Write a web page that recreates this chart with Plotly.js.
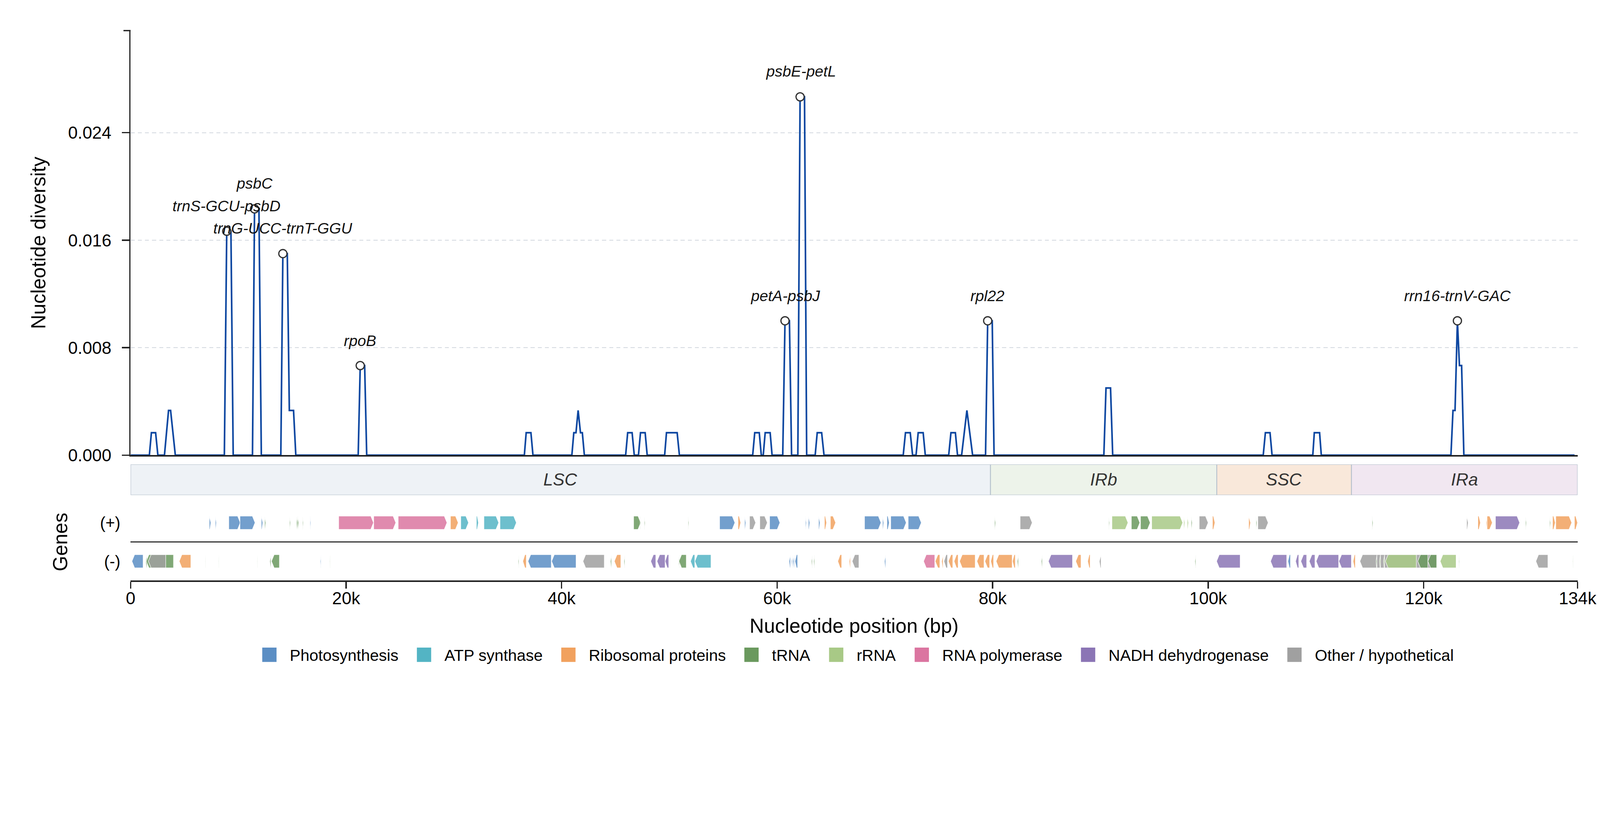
<!DOCTYPE html>
<html>
<head>
<meta charset="utf-8">
<script src="https://cdn.plot.ly/plotly-3.0.1.min.js"></script>
<style>
  html { overflow:hidden; }
  html, body { margin:0; padding:0; background:#fff; width:100%; height:100%; }
  #wrap { position:relative; overflow:hidden; }
  #myDiv { width:1568px; height:763px; transform-origin:0 0; position:absolute; left:0; top:0; }
</style>
</head>
<body>
<div id="wrap"><div id="myDiv"></div></div>
<script>
/**************************************************************/
// sliding window nucleotide diversity (window vertices, bp / pi)
var divPos = [0,
  1740,1930,2320,2530, 3140,3520,3710,4150,
  8700,8920,9310,9520, 11310,11500,11910,12130,
  13940,14130,14540,14730,15120,15330, 21120,21310,21720,21910,
  36540,36710,37150,37340, 40950,41130,41330,41530,41750,41920,42110,
  45940,46130,46540,46740, 47130,47320,47750,47940, 49560,49730,50720,50930,
  57730,57920,58340,58530, 58710,58890,59350,59530,
  60520,60730,61140,61340, 61920,62130,62540,62740, 63530,63720,64130,64350,
  71700,71910,72350,72570, 72890,73090,73550,73750, 75920,76130,76540,76740,
  77120,77610,78140, 79340,79540,79960,80130,
  90320,90520,90940,91140, 105110,105310,105740,105930, 109710,109850,110340,110500,
  122530,122720,122910,123130,123320,123520,123730, 134000];
var divPi = [0,
  0,0.00167,0.00167,0, 0,0.00333,0.00333,0,
  0,0.01667,0.01667,0, 0,0.01833,0.01833,0,
  0,0.015,0.015,0.00333,0.00333,0, 0,0.00667,0.00667,0,
  0,0.00167,0.00167,0, 0,0.00167,0.00167,0.00333,0.00167,0.00167,0,
  0,0.00167,0.00167,0, 0,0.00167,0.00167,0, 0,0.00167,0.00167,0,
  0,0.00167,0.00167,0, 0,0.00167,0.00167,0,
  0,0.01,0.01,0, 0,0.02667,0.02667,0, 0,0.00167,0.00167,0,
  0,0.00167,0.00167,0, 0,0.00167,0.00167,0, 0,0.00167,0.00167,0,
  0,0.00333,0, 0,0.01,0.01,0,
  0,0.005,0.005,0, 0,0.00167,0.00167,0, 0,0.00167,0.00167,0,
  0,0.00333,0.00333,0.01,0.00667,0.00667,0, 0];

// labelled hotspots
var peakLabels = ["trnS-GCU-psbD","psbC","trnG-UCC-trnT-GGU","rpoB",
                  "petA-psbJ","psbE-petL","rpl22","rrn16-trnV-GAC"];
var peakPos = [8920, 11500, 14130, 21310, 60730, 62130, 79540, 123130];
var peakPi  = [0.01667, 0.01833, 0.015, 0.00667, 0.01, 0.02667, 0.01, 0.01];

// genome regions
var regionNames = ["LSC","IRb","SSC","IRa"];
var regionStart = [0, 79800, 100800, 113300];
var regionEnd   = [79800, 100800, 113300, 134280];
var regionColors = ["#EEF2F6","#EDF3EA","#F9E8DA","#F1E7F1"];

// gene categories
var catNames = ["Photosynthesis","ATP synthase","Ribosomal proteins","tRNA","rRNA",
                "RNA polymerase","NADH dehydrogenase","Other / hypothetical"];
var catColors = ["#5B8EC4","#53B4C4","#F1A15E","#6A995E","#A8C986",
                 "#DB75A0","#8B75B5","#A0A0A0"];

// genes on (+) strand
var plusStart = [7300,7860,9110,10150,12130,12440,14750,15400,15500,15960,16660,
  19310,22560,24830,29680,30640,32090,32790,34280,46680,47290,47670,51740,
  54660,56370,56980,57440,58390,59300,62630,62900,63850,64390,64940,
  68110,69780,70190,70540,72160,80180,82550,90770,91070,92870,93720,94760,
  97730,98060,98430,99170,100400,103760,104440,104610,115220,123990,
  125030,125790,125880,126660,129450,131690,131960,132260,133990];
var plusEnd = [7450,7960,10180,11550,12270,12540,14830,15500,15600,16030,16730,
  22540,24610,29360,30400,31360,32280,34160,35800,47340,47350,47740,51810,
  56080,56620,57090,58010,59090,60260,62710,63030,63980,64590,65430,
  69640,69890,70410,71980,73380,80270,83670,90840,92560,93660,94620,97640,
  97830,98170,98520,100000,100630,103930,104520,105570,115300,124130,
  125270,125870,126370,128910,129530,131770,132210,133740,134280];
var plusCat = [0,0,0,0,0,3,3,3,3,3,0,
  5,5,5,2,1,1,1,1,3,3,3,3,
  0,2,0,7,7,0,0,0,0,2,2,
  0,0,0,0,0,3,7,3,4,3,3,4,
  4,4,3,7,2,2,3,7,3,7,
  2,2,2,6,3,3,2,2,2];

// genes on (-) strand
var minusStart = [120,1400,1450,1650,4510,6920,8150,11740,12920,13070,17600,18470,
  35970,36400,36880,39070,41980,44530,44890,45790,48270,48850,49600,50860,50880,
  51960,52360,61110,61340,61480,61650,63190,63390,65630,66690,66960,69960,
  73590,74670,75270,75480,75890,76420,76930,78540,79280,79820,80320,81840,
  82290,84520,85170,87710,88820,89900,98770,100780,105790,107400,108110,
  108600,109380,110020,112130,113450,114080,115580,115900,116280,116450,
  119450,120390,121530,123250,130410,133820];
var minusEnd = [1160,1520,3980,3260,5590,6970,8200,11790,13020,13810,17670,18520,
  36040,36720,39040,41340,43960,44630,45490,45870,48740,49600,49940,50940,51570,
  52360,53860,61240,61430,61590,61900,63270,63470,65990,66800,67590,70070,
  74630,75100,75400,75810,76300,76800,78380,79200,79720,80090,81810,82100,
  82390,84610,87410,88200,89050,90060,98850,102970,107290,107640,108410,
  109140,109910,112110,113290,113660,121210,115660,115990,116370,119320,
  120390,121210,123010,123310,131530,133870];
var minusCat = [0,3,3,7,2,3,3,3,3,3,0,3,
  3,2,0,0,7,3,2,3,6,6,6,3,3,
  1,1,0,0,0,0,3,3,2,2,7,0,
  5,2,2,7,2,2,2,2,2,2,2,2,
  3,3,6,2,2,7,3,6,6,0,6,
  6,6,6,6,2,7,3,4,4,4,
  3,3,4,3,7,3];

/**************************************************************/
var FONT = "Liberation Sans, Arial, sans-serif";
var GENOME = 134280;
var BASE_W = 1568, BASE_H = 763;

function hexToRgba(hex, a) {
  var r=parseInt(hex.substr(1,2),16);
  var g=parseInt(hex.substr(3,2),16);
  var b=parseInt(hex.substr(5,2),16);
  return "rgba("+r+","+g+","+b+","+a+")";
}

// one arrow polygon per gene, pointing along its strand
function makeGeneTraces(starts, ends, cats, strand) {
  var ret=[];
  var mid = strand>0 ? 0.5 : -0.5;
  var hh=0.172;
  for(var i=0;i<starts.length;i++) {
    var s=starts[i], e=ends[i];
    var head=Math.min(250, (e-s)*0.6);
    var xs, ys;
    if(strand>0) {
      xs=[s, e-head, e, e-head, s, s];
    } else {
      xs=[e, s+head, s, s+head, e, e];
    }
    ys=[mid-hh, mid-hh, mid, mid+hh, mid+hh, mid-hh];
    var col=catColors[cats[i]];
    ret.push({
      x:xs, y:ys, xaxis:"x", yaxis:"y3",
      type:"scatter", mode:"lines", fill:"toself",
      fillcolor: hexToRgba(col,0.85),
      line:{color:"rgba(255,255,255,0.9)", width:0.5},
      showlegend:false, hoverinfo:"skip"
    });
  }
  return ret;
}

function makeLegendTraces() {
  var ret=[];
  for(var i=0;i<catNames.length;i++) {
    ret.push({
      x:[null], y:[null], xaxis:"x", yaxis:"y3",
      type:"scatter", mode:"markers", name:catNames[i],
      marker:{symbol:"square", size:14, color:catColors[i]},
      showlegend:true, hoverinfo:"skip"
    });
  }
  return ret;
}

function makeRegionTrace() {
  var lens=[], ys=[];
  for(var i=0;i<regionNames.length;i++) {
    lens.push(regionEnd[i]-regionStart[i]);
    ys.push(0);
  }
  return {
    type:"bar", orientation:"h", x:lens, base:regionStart, y:ys, width:1,
    xaxis:"x", yaxis:"y2",
    marker:{color:regionColors, line:{color:"#B3BFCC", width:0.8}},
    text:regionNames, textposition:"inside", insidetextanchor:"middle",
    constraintext:"none",
    textfont:{family:FONT, size:17, color:"#333", style:"italic"},
    showlegend:false, hoverinfo:"skip"
  };
}

function makeDiversityTraces() {
  var line={
    x:divPos, y:divPi, xaxis:"x2", yaxis:"y",
    type:"scatter", mode:"lines",
    line:{color:"#0D47A1", width:1.6},
    showlegend:false, hoverinfo:"skip"
  };
  var marks={
    x:peakPos, y:peakPi, xaxis:"x2", yaxis:"y",
    type:"scatter", mode:"markers",
    marker:{symbol:"circle", size:8, color:"#fff", line:{color:"#333", width:1.2}},
    cliponaxis:false, showlegend:false, hoverinfo:"skip"
  };
  return [line, marks];
}

function makePeakAnnotations() {
  var ret=[];
  for(var i=0;i<peakLabels.length;i++) {
    ret.push({
      x:peakPos[i], y:peakPi[i], xref:"x2", yref:"y",
      text:peakLabels[i], showarrow:false, yshift:25,
      xanchor:"center", yanchor:"middle",
      font:{family:FONT, size:15, color:"#111", style:"italic"}
    });
  }
  return ret;
}

function getLayout() {
  var xticks=[0,20000,40000,60000,80000,100000,120000,GENOME];
  var xtext=["0","20k","40k","60k","80k","100k","120k","134k"];
  return {
    width:BASE_W, height:BASE_H,
    margin:{l:128.25, r:22.1, t:29.5, b:194.1},
    paper_bgcolor:"#fff", plot_bgcolor:"rgba(0,0,0,0)",
    font:{family:FONT, color:"#000"},
    hovermode:false,
    showlegend:true,
    legend:{orientation:"h", x:0.5, xanchor:"center", y:-0.1355, yanchor:"middle",
            font:{family:FONT, size:15.7, color:"#000"}, itemwidth:30,
            bgcolor:"rgba(0,0,0,0)"},
    xaxis:{
      domain:[0,1], anchor:"y3", range:[0,GENOME],
      tickvals:xticks, ticktext:xtext,
      ticks:"outside", ticklen:6.5, tickwidth:1.3, tickcolor:"#222",
      ticklabelstandoff:-5,
      showline:true, linecolor:"#222", linewidth:1.3,
      showgrid:false, zeroline:false,
      tickfont:{size:17, color:"#000"},
      title:{text:"Nucleotide position (bp)", font:{size:19.5, color:"#000"}, standoff:11}
    },
    xaxis2:{
      domain:[0,1], anchor:"y", range:[0,GENOME],
      showticklabels:false, ticks:"",
      showline:true, linecolor:"#222", linewidth:1.4,
      showgrid:false, zeroline:false
    },
    yaxis:{
      domain:[0.228,1], anchor:"x2", range:[0,0.0316],
      tickvals:[0,0.008,0.016,0.024], ticktext:["0.000","0.008","0.016","0.024"],
      ticks:"outside", ticklen:7, tickwidth:1.3, tickcolor:"#222",
      ticklabelstandoff:7,
      showline:true, linecolor:"#222", linewidth:1.4,
      showgrid:true, gridcolor:"#D3D8DF", gridwidth:0.8, griddash:"4px,3px",
      zeroline:false,
      tickfont:{size:17, color:"#000"},
      title:{text:"Nucleotide diversity", font:{size:19.5, color:"#000"}, standoff:16}
    },
    yaxis2:{
      domain:[0.1554,0.2112], anchor:"x", range:[-0.5,0.5], visible:false
    },
    yaxis3:{
      domain:[0,0.1402], anchor:"x", range:[-1,1],
      tickvals:[0.5,-0.5], ticktext:["(+)","(-)"],
      ticks:"", showline:false, showgrid:false,
      ticklabelstandoff:9,
      zeroline:true, zerolinecolor:"#333", zerolinewidth:1.3,
      tickfont:{size:16, color:"#000"},
      title:{text:"Genes", font:{size:19.5, color:"#000"}, standoff:26}
    },
    shapes:[
      // tick stub on top of the diversity spine (paper refs so it is not clipped)
      {type:"line", xref:"paper", yref:"paper", xsizemode:"pixel", xanchor:0,
       x0:-7, x1:0, y0:1, y1:1, line:{color:"#222", width:1.3}}
    ],
    annotations: makePeakAnnotations()
  };
}

function addAPlot() {
  // draw at a 1568 px base size, then scale the whole figure to the window
  var s = window.innerWidth / BASE_W;
  var wrap = document.getElementById("wrap");
  wrap.style.width = window.innerWidth + "px";
  wrap.style.height = Math.max(window.innerHeight, Math.ceil(BASE_H * s)) + "px";
  document.getElementById("myDiv").style.transform = "scale(" + s + ")";

  var data=[];
  data.push(makeRegionTrace());
  data=data.concat(makeGeneTraces(plusStart, plusEnd, plusCat, 1));
  data=data.concat(makeGeneTraces(minusStart, minusEnd, minusCat, -1));
  data=data.concat(makeDiversityTraces());
  data=data.concat(makeLegendTraces());
  return Plotly.newPlot("myDiv", data, getLayout(), {displayModeBar:false, staticPlot:true});
}

addAPlot();
</script>
</body>
</html>
